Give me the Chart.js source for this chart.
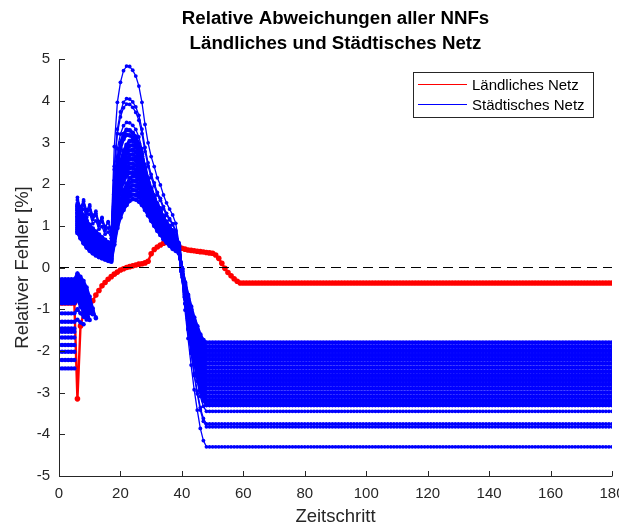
<!DOCTYPE html>
<html><head><meta charset="utf-8">
<script src="https://cdn.jsdelivr.net/npm/chart.js@4.4.0/dist/chart.umd.min.js"></script>
<style>html,body{margin:0;padding:0;background:#fff}canvas{display:block}</style>
</head><body>
<canvas id="c" width="619" height="526"></canvas>
<script>
const titleLines = ['Relative Abweichungen aller NNFs', 'Ländliches und Städtisches Netz'];
const xLabel = 'Zeitschritt';
const yLabel = 'Relativer Fehler [%]';
const seriesNames = ['Ländliches Netz', 'Städtisches Netz'];
const xTicks = [0, 20, 40, 60, 80, 100, 120, 140, 160, 180];
const yTicks = [-5, -4, -3, -2, -1, 0, 1, 2, 3, 4, 5];
const tEnd = 180;

// Ländliches Netz, t = 0..59, then flat
const redValues = [-0.85,-0.85,-0.85,-0.85,-0.85,-0.85,-3.15,-1.40,-1.10,-1.00,
  -0.92,-0.80,-0.66,-0.55,-0.44,-0.36,-0.28,-0.22,-0.16,-0.11,
  -0.06,-0.03,0.00,0.02,0.04,0.06,0.08,0.09,0.11,0.15,
  0.33,0.43,0.49,0.54,0.58,0.60,0.60,0.58,0.55,0.50,
  0.46,0.44,0.42,0.41,0.40,0.39,0.38,0.37,0.36,0.35,
  0.34,0.30,0.22,0.10,-0.02,-0.12,-0.20,-0.27,-0.33,-0.37];
const redFinal = -0.37;

// Städtisches Netz, start segments: level for t = 0..5, then tail from t = 6
const blueStartLevel = [-0.28,-0.33,-0.38,-0.43,-0.49,-0.55,-0.61,-0.67,-0.74,-0.80,
  -0.86,-1.10,-1.30,-1.46,-1.54,-1.68,-1.86,-2.02,-2.22,-2.42];
const blueStartTail = [
  [-0.14,-0.22,-0.32,-0.48,-0.70,-0.98,-1.22],
  [-0.18,-0.28,-0.40,-0.55,-0.78,-1.05,-1.20],
  [-0.22,-0.34,-0.48,-0.62,-0.85,-1.10],
  [-0.28,-0.42,-0.55,-0.70,-0.92,-1.12],
  [-0.33,-0.48,-0.62,-0.78,-0.98],
  [-0.40,-0.55,-0.70,-0.85,-1.05],
  [-0.47,-0.62,-0.78,-0.92,-1.10],
  [-0.55,-0.70,-0.85,-1.00,-1.26],
  [-0.62,-0.78,-0.92,-1.08],
  [-0.70,-0.86,-1.00,-1.16],
  [-0.78,-0.94,-1.08,-1.20],
  [-1.00,-1.10,-1.18,-1.25],
  [-1.25,-1.32,-1.36],
  [],[],[],[],[],[],[]
];

// Städtisches Netz, main segments: t = 6..17
const blueEarly = [
  [0.83,0.70,0.58,0.48,0.40,0.34,0.29,0.25,0.22,0.19,0.16,0.14],
  [0.87,0.75,0.62,0.52,0.44,0.38,0.33,0.29,0.25,0.22,0.19,0.17],
  [0.92,0.79,0.67,0.57,0.48,0.42,0.37,0.32,0.29,0.25,0.22,0.20],
  [0.96,0.84,0.71,0.61,0.52,0.46,0.40,0.36,0.32,0.28,0.25,0.22],
  [1.01,0.88,0.76,0.65,0.57,0.50,0.44,0.39,0.35,0.32,0.28,0.25],
  [1.05,0.93,0.80,0.69,0.61,0.54,0.48,0.43,0.39,0.35,0.31,0.28],
  [1.10,0.97,0.85,0.74,0.65,0.58,0.52,0.47,0.42,0.38,0.34,0.30],
  [1.14,1.02,0.89,0.78,0.69,0.62,0.56,0.50,0.45,0.41,0.37,0.33],
  [1.19,1.06,0.94,0.82,0.73,0.65,0.59,0.54,0.49,0.44,0.40,0.36],
  [1.23,1.11,0.98,0.86,0.77,0.69,0.63,0.57,0.52,0.47,0.42,0.39],
  [1.28,1.15,1.03,0.91,0.81,0.73,0.67,0.61,0.55,0.50,0.45,0.41],
  [1.32,1.20,1.07,0.95,0.86,0.77,0.71,0.65,0.59,0.54,0.48,0.44],
  [1.37,1.24,1.12,0.99,0.90,0.81,0.75,0.68,0.62,0.57,0.51,0.47],
  [1.41,1.29,1.16,1.04,0.94,0.85,0.78,0.72,0.65,0.60,0.54,0.50],
  [1.46,1.34,1.21,1.08,0.98,0.89,0.82,0.75,0.69,0.63,0.57,0.52],
  [1.50,1.38,1.25,1.12,1.02,0.93,0.86,0.79,0.72,0.66,0.60,0.55],
  [1.45,1.30,1.40,1.20,1.28,1.05,1.12,0.92,0.98,0.80,0.85,0.70],
  [1.55,1.35,1.50,1.28,1.38,1.15,1.25,1.00,1.10,0.88,0.95,0.78],
  [1.62,1.40,1.58,1.32,1.46,1.22,1.30,1.05,1.18,0.95,1.08,0.85],
  [1.68,1.45,1.62,1.38,1.50,1.25,1.35,1.10,1.20,0.98,1.10,0.90]
];
// t = 18..38
const blueHump = [
  [0.55,0.95,1.20,1.38,1.50,1.60,1.64,1.63,1.58,1.50,1.38,1.25,1.12,1.00,0.88,0.78,0.68,0.60,0.52,0.45,0.40],
  [0.62,1.02,1.28,1.47,1.60,1.71,1.75,1.74,1.69,1.60,1.47,1.33,1.20,1.07,0.94,0.83,0.73,0.64,0.55,0.48,0.43],
  [0.70,1.08,1.36,1.56,1.70,1.81,1.86,1.85,1.79,1.70,1.56,1.41,1.27,1.13,1.00,0.89,0.77,0.68,0.59,0.51,0.45],
  [0.78,1.16,1.44,1.65,1.80,1.92,1.97,1.96,1.90,1.80,1.65,1.50,1.35,1.20,1.06,0.94,0.82,0.72,0.62,0.54,0.48],
  [0.86,1.24,1.52,1.75,1.90,2.03,2.08,2.07,2.00,1.90,1.75,1.58,1.42,1.27,1.12,0.99,0.86,0.76,0.66,0.57,0.51],
  [0.95,1.33,1.62,1.84,2.00,2.14,2.19,2.18,2.11,2.00,1.84,1.66,1.50,1.34,1.18,1.04,0.91,0.80,0.69,0.60,0.53],
  [1.04,1.50,1.82,2.05,2.20,2.27,2.28,2.24,2.14,2.00,1.78,1.59,1.42,1.28,1.13,1.02,0.90,0.79,0.70,0.61,0.53],
  [1.10,1.60,1.92,2.15,2.31,2.38,2.39,2.34,2.24,2.10,1.87,1.66,1.49,1.34,1.18,1.07,0.94,0.83,0.73,0.64,0.56],
  [1.16,1.70,2.03,2.26,2.41,2.49,2.49,2.45,2.34,2.19,1.95,1.74,1.55,1.40,1.23,1.12,0.98,0.86,0.76,0.67,0.58],
  [1.22,1.80,2.14,2.37,2.52,2.60,2.60,2.56,2.45,2.29,2.04,1.81,1.62,1.46,1.29,1.17,1.03,0.90,0.80,0.70,0.61],
  [1.28,1.90,2.25,2.48,2.62,2.70,2.71,2.66,2.55,2.38,2.12,1.89,1.69,1.52,1.34,1.21,1.07,0.94,0.83,0.73,0.64],
  [1.34,2.00,2.35,2.59,2.73,2.81,2.82,2.77,2.65,2.48,2.21,1.97,1.76,1.58,1.40,1.26,1.11,0.98,0.86,0.76,0.66],
  [1.40,2.08,2.44,2.69,2.84,2.92,2.93,2.88,2.75,2.58,2.29,2.04,1.83,1.64,1.45,1.31,1.15,1.02,0.90,0.79,0.69],
  [1.46,2.16,2.53,2.79,2.94,3.03,3.04,2.98,2.86,2.67,2.38,2.12,1.89,1.70,1.50,1.36,1.20,1.05,0.93,0.82,0.71],
  [1.60,2.40,2.85,3.08,3.18,3.17,3.12,3.02,2.86,2.61,2.26,1.97,1.75,1.59,1.42,1.30,1.14,1.02,0.92,0.83,0.70],
  [1.75,2.55,2.98,3.20,3.30,3.29,3.23,3.14,2.97,2.71,2.34,2.05,1.82,1.65,1.47,1.35,1.19,1.06,0.96,0.86,0.73],
  [2.09,2.85,3.20,3.40,3.48,3.47,3.41,3.31,3.13,2.85,2.47,2.16,1.91,1.74,1.55,1.43,1.25,1.11,1.01,0.90,0.77],
  [2.35,3.21,3.61,3.83,3.92,3.91,3.84,3.72,3.53,3.21,2.78,2.43,2.16,1.96,1.74,1.61,1.41,1.25,1.14,1.02,0.86],
  [2.43,3.32,3.73,3.96,4.05,4.04,3.97,3.85,3.65,3.32,2.88,2.51,2.23,2.03,1.80,1.66,1.46,1.30,1.17,1.05,0.89],
  [2.90,3.96,4.44,4.72,4.83,4.82,4.73,4.59,4.35,3.96,3.43,2.99,2.66,2.42,2.15,1.98,1.74,1.55,1.40,1.26,1.06]
];
// t = 39..48 (last value stays constant to the end)
const blueDrop = [
  [0.35,-0.02,-0.36,-0.66,-0.94,-1.20,-1.41,-1.61,-1.74,-1.80],
  [0.36,-0.02,-0.39,-0.70,-1.00,-1.27,-1.49,-1.70,-1.83,-1.90],
  [0.38,-0.02,-0.41,-0.74,-1.05,-1.33,-1.57,-1.79,-1.93,-2.00],
  [0.39,-0.03,-0.43,-0.78,-1.10,-1.40,-1.65,-1.88,-2.03,-2.10],
  [0.40,-0.04,-0.46,-0.82,-1.16,-1.47,-1.73,-1.97,-2.12,-2.20],
  [0.42,-0.04,-0.48,-0.86,-1.21,-1.54,-1.81,-2.06,-2.22,-2.30],
  [0.43,-0.05,-0.50,-0.90,-1.27,-1.61,-1.89,-2.15,-2.32,-2.40],
  [0.44,-0.06,-0.53,-0.94,-1.32,-1.68,-1.97,-2.24,-2.41,-2.50],
  [0.45,-0.07,-0.56,-0.98,-1.38,-1.75,-2.05,-2.33,-2.51,-2.60],
  [0.47,-0.07,-0.58,-1.02,-1.43,-1.81,-2.13,-2.42,-2.61,-2.70],
  [0.48,-0.08,-0.60,-1.06,-1.49,-1.88,-2.21,-2.51,-2.70,-2.80],
  [0.49,-0.09,-0.63,-1.10,-1.54,-1.95,-2.29,-2.60,-2.80,-2.90],
  [0.51,-0.09,-0.65,-1.14,-1.60,-2.02,-2.37,-2.68,-2.90,-3.00],
  [0.52,-0.10,-0.68,-1.18,-1.65,-2.09,-2.45,-2.77,-2.99,-3.10],
  [0.53,-0.10,-0.70,-1.22,-1.71,-2.16,-2.53,-2.86,-3.09,-3.20],
  [0.55,-0.11,-0.72,-1.26,-1.76,-2.22,-2.61,-2.95,-3.19,-3.30],
  [0.56,-0.12,-0.76,-1.33,-1.85,-2.33,-2.73,-3.09,-3.33,-3.45],
  [0.57,-0.16,-0.86,-1.46,-2.02,-2.54,-2.97,-3.36,-3.62,-3.75],
  [0.58,-0.17,-0.87,-1.49,-2.06,-2.59,-3.03,-3.42,-3.69,-3.82],
  [0.60,-0.23,-1.02,-1.70,-2.34,-2.93,-3.42,-3.86,-4.15,-4.30]
];
const denseCount = 16; // series 0..15 form the dense band

const RED = '#ff0000', BLUE = '#0000ff', AX = '#262626';
const FONT = '"Liberation Sans", Arial, Helvetica, sans-serif';
Chart.defaults.font.family = FONT;

function toPoints(t0, vals) { return vals.map((v, k) => ({ x: t0 + k, y: v })); }
function holdLast(points, value) {
  const out = points.slice();
  for (let t = points[points.length - 1].x + 1; t <= tEnd; t++) out.push({ x: t, y: value });
  return out;
}

const datasets = [];
datasets.push({ data: [{ x: xTicks[0], y: 0 }, { x: xTicks[xTicks.length - 1], y: 0 }],
  borderColor: '#000', borderWidth: 1, borderDash: [10, 6], pointRadius: 0 });
blueEarly.forEach((early, i) => {
  const vals = early.concat(blueHump[i], blueDrop[i]);
  const pts = toPoints(6, vals);
  const dense = i < denseCount;
  datasets.push({ data: holdLast(pts, vals[vals.length - 1]), borderColor: BLUE, backgroundColor: BLUE,
    borderWidth: dense ? 3 : 1.3, pointRadius: dense ? 2.4 : 1.9, pointBorderWidth: 0 });
});
blueStartLevel.forEach((lv, i) => {
  const vals = [lv, lv, lv, lv, lv, lv].concat(blueStartTail[i]);
  datasets.push({ data: toPoints(0, vals), borderColor: BLUE, backgroundColor: BLUE,
    borderWidth: 2.6, pointRadius: 2.2, pointBorderWidth: 0 });
});
datasets.push({ data: holdLast(toPoints(0, redValues), redFinal), borderColor: RED, backgroundColor: RED,
  borderWidth: 2.4, pointRadius: 2.8, pointBorderWidth: 0 });

const decor = {
  id: 'decor',
  afterDraw(chart) {
    const { ctx, chartArea: a, scales: { x, y } } = chart;
    ctx.save();
    ctx.strokeStyle = AX; ctx.lineWidth = 1;
    ctx.beginPath();
    ctx.moveTo(a.left + 0.5, a.top); ctx.lineTo(a.left + 0.5, a.bottom + 0.5); ctx.lineTo(a.right + 0.5, a.bottom + 0.5);
    ctx.stroke();
    ctx.beginPath();
    xTicks.forEach(v => { const px = Math.round(x.getPixelForValue(v)) + 0.5; ctx.moveTo(px, a.bottom); ctx.lineTo(px, a.bottom - 5); });
    yTicks.forEach(v => { const py = Math.round(y.getPixelForValue(v)) + 0.5; ctx.moveTo(a.left, py); ctx.lineTo(a.left + 6, py); });
    ctx.stroke();

    const cx = (a.left + a.right) / 2;
    ctx.fillStyle = '#000'; ctx.textAlign = 'center'; ctx.textBaseline = 'middle';
    ctx.font = 'bold 18.7px ' + FONT;
    ctx.fillText(titleLines[0], cx, 19);
    ctx.fillText(titleLines[1], cx, 44);

    ctx.fillStyle = AX; ctx.font = '18.5px ' + FONT;
    ctx.fillText(xLabel, cx, 517);
    ctx.save();
    ctx.translate(23, (a.top + a.bottom) / 2); ctx.rotate(-Math.PI / 2);
    ctx.fillText(yLabel, 0, 0);
    ctx.restore();

    // legend
    const L = a.right - 199, T = a.top + 13, W = 180, H = 45;
    ctx.fillStyle = '#fff'; ctx.fillRect(L, T, W, H);
    ctx.strokeStyle = AX; ctx.strokeRect(L + 0.5, T + 0.5, W, H);
    const cols = [RED, BLUE];
    ctx.font = '15px ' + FONT; ctx.textAlign = 'left'; ctx.textBaseline = 'middle';
    seriesNames.forEach((nm, k) => {
      const ly = T + 12 + 20 * k + 0.5;
      ctx.strokeStyle = cols[k]; ctx.lineWidth = 1;
      ctx.beginPath(); ctx.moveTo(L + 5, ly); ctx.lineTo(L + 54, ly); ctx.stroke();
      ctx.fillStyle = '#000'; ctx.fillText(nm, L + 59, ly + 1);
    });
    ctx.restore();
  }
};

new Chart(document.getElementById('c'), {
  type: 'line',
  data: { datasets },
  options: {
    responsive: false, animation: false, events: [],
    layout: { padding: { top: 59, right: 7, left: 0, bottom: 0 } },
    elements: { line: { tension: 0 } },
    plugins: { legend: { display: false }, title: { display: false }, tooltip: { enabled: false } },
    scales: {
      x: {
        type: 'linear', min: 0, max: 180,
        grid: { display: false, drawTicks: false }, border: { display: false },
        afterBuildTicks: s => { s.ticks = xTicks.map(v => ({ value: v })); },
        afterFit: s => { s.height = 50; s.paddingLeft = 0; s.paddingRight = 0; },
        ticks: { font: { size: 15 }, color: AX, padding: 9, maxRotation: 0, autoSkip: false }
      },
      y: {
        type: 'linear', min: -5, max: 5,
        grid: { display: false, drawTicks: false }, border: { display: false },
        afterBuildTicks: s => { s.ticks = yTicks.map(v => ({ value: v })); },
        afterFit: s => { s.width = 59; s.paddingTop = 0; s.paddingBottom = 0; },
        ticks: { font: { size: 15 }, color: AX, padding: 9 }
      }
    }
  },
  plugins: [decor]
});
</script>
</body></html>
